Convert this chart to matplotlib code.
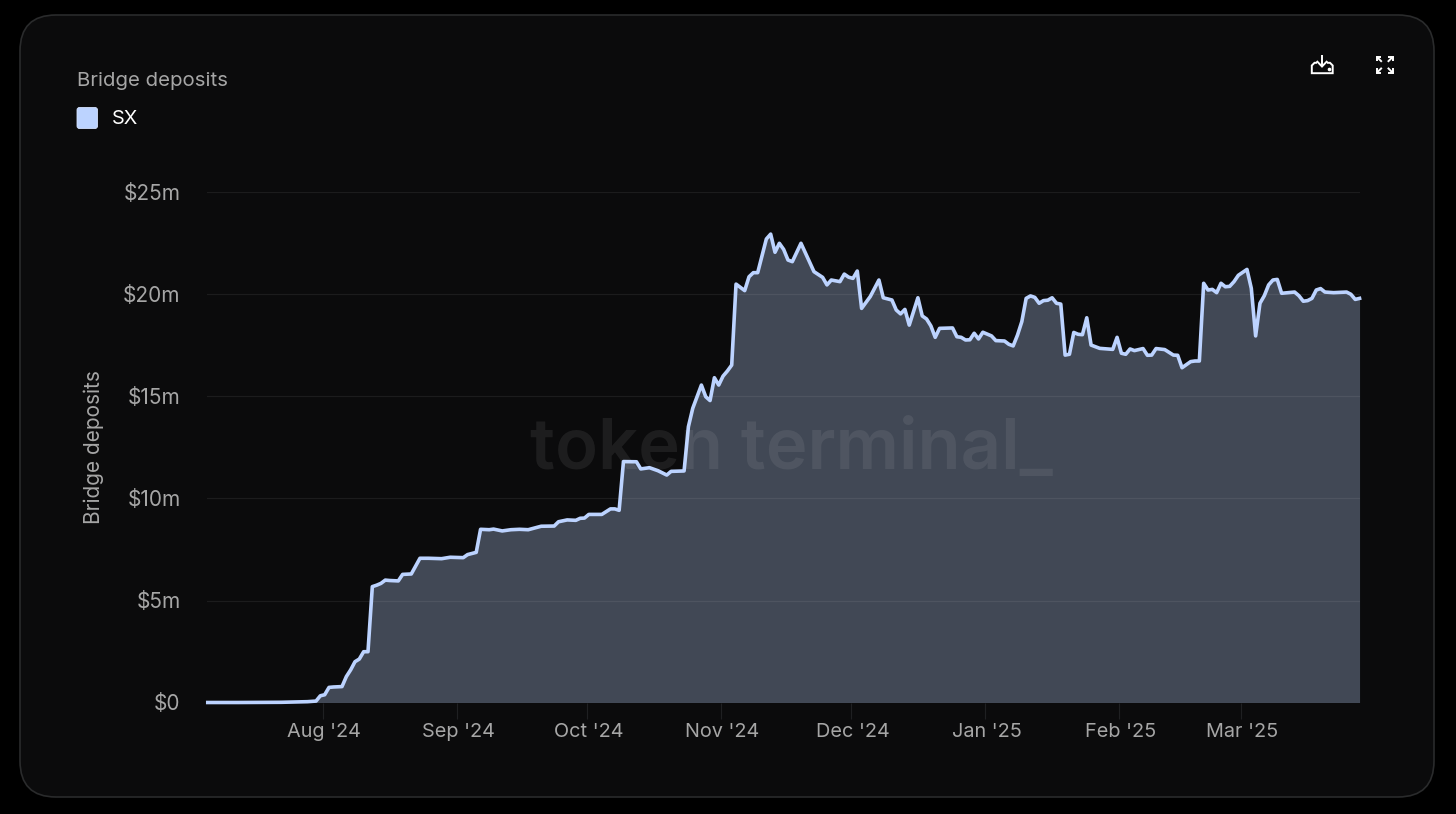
# Bridge deposits for SX, dark card style

import matplotlib
matplotlib.use("Agg")
import matplotlib.pyplot as plt
from matplotlib.patches import FancyBboxPatch
from matplotlib.transforms import ScaledTranslation
import pandas as pd

plt.rcParams['font.family'] = ['Inter', 'DejaVu Sans']

# days counted from 1 Aug 2024
days = [-27, -20, -10, -4, -2, -1, 0, 1, 2, 3, 4, 5, 6, 7, 8, 9, 10, 11, 12, 13, 14, 15, 16, 17, 18, 20, 22, 24, 27, 29, 32, 33, 35, 36, 38, 39, 41, 43, 45, 47, 50, 53, 54, 56, 58, 59, 60, 61, 64, 66, 67, 68,
        69, 72, 73, 75, 77, 79, 80, 83, 84, 85, 87, 88, 89, 90, 91, 92, 93, 94,
        95, 97, 98, 99, 100, 102, 103, 104, 105, 106, 107, 108, 110, 113, 115, 116, 117, 119, 120, 121, 122, 123, 124, 126, 128, 129, 131, 132, 133, 134, 135, 137, 138, 139, 140, 141, 142, 145, 146, 147, 148, 149, 150, 151, 152, 154, 155, 157,
        158, 159, 160, 161, 162, 163, 164, 165, 166, 167, 168, 169, 170, 171, 172, 173, 174, 175, 176, 177, 179, 182, 183, 184, 185, 186, 187, 189, 190, 191, 192, 194, 196, 197, 198, 200, 201, 202, 203, 204, 205, 206, 207, 208, 209, 210, 211, 213, 214, 215, 216, 217, 218, 219, 220, 221, 224, 225, 226, 227, 228, 229, 230, 231, 233, 236, 237, 238, 239]
deposits = [0, 0, 0.01, 0.04, 0.07, 0.33, 0.38, 0.74, 0.76, 0.77, 0.78, 1.27, 1.6, 2.0, 2.13, 2.49, 2.49, 5.68, 5.75, 5.84, 6.0, 5.98, 5.97, 5.96, 6.28, 6.3, 7.07, 7.07, 7.05, 7.12, 7.1, 7.25, 7.36, 8.49, 8.47, 8.5, 8.41, 8.47, 8.49, 8.47, 8.64, 8.65, 8.86, 8.95, 8.93, 9.03, 9.04, 9.22, 9.22, 9.49, 9.49, 9.42,
            11.81, 11.8, 11.45, 11.51, 11.36, 11.15, 11.33, 11.35, 13.52, 14.42, 15.56, 14.99, 14.8, 15.92, 15.56, 16.0, 16.25, 16.54,
            20.51, 20.19, 20.87, 21.07, 21.07, 22.72, 22.96, 22.07, 22.51, 22.21, 21.69, 21.61, 22.51, 21.12, 20.84, 20.47, 20.71, 20.63, 21.0, 20.85, 20.79, 21.15, 19.32, 19.9, 20.71, 19.84, 19.73, 19.24, 19.05, 19.27, 18.5, 19.84, 18.95, 18.8, 18.46, 17.9, 18.34, 18.36, 17.93, 17.9, 17.77, 17.78, 18.1, 17.82, 18.15, 17.97, 17.74, 17.72,
            17.56, 17.48, 18.01, 18.67, 19.81, 19.93, 19.86, 19.57, 19.7, 19.72, 19.84, 19.57, 19.53, 17.03, 17.07, 18.14, 18.05, 18.03, 18.86, 17.52, 17.36, 17.31, 17.9, 17.12, 17.07, 17.33, 17.25, 17.35, 17.02, 17.03, 17.35, 17.3, 17.03, 17.02, 16.41, 16.71, 16.74, 16.74, 20.55, 20.22, 20.25, 20.09, 20.55, 20.38, 20.4, 20.63, 20.94, 21.23, 20.3, 17.97, 19.57, 19.94, 20.47, 20.71, 20.74, 20.06, 20.12, 19.94, 19.67, 19.7, 19.81, 20.22, 20.29, 20.12, 20.09, 20.12, 20.01, 19.76, 19.81]

y_ticks = [0, 5, 10, 15, 20, 25]
y_labels = ["$0", "$5m", "$10m", "$15m", "$20m", "$25m"]
x_ticks = ["2024-08-01", "2024-09-01", "2024-10-01", "2024-11-01", "2024-12-01", "2025-01-01", "2025-02-01", "2025-03-01"]
x_labels = ["Aug '24", "Sep '24", "Oct '24", "Nov '24", "Dec '24", "Jan '25", "Feb '25", "Mar '25"]

W, H = 1456, 814
GREY = "#a6a6a6"
LINE = "#bcd3ff"

dates = pd.Timestamp("2024-08-01") + pd.to_timedelta(days, unit="D") + pd.Timedelta(hours=11)

fig = plt.figure(figsize=(W/100, H/100), dpi=100, facecolor="#000000")

# background card and header furniture, in pixel coordinates
bg = fig.add_axes([0, 0, 1, 1])
bg.set_xlim(0, W)
bg.set_ylim(H, 0)
bg.axis("off")
bg.add_patch(FancyBboxPatch((20+36, 15+36), 1414-72, 782-72, boxstyle="round,pad=36,rounding_size=36",
                            facecolor="#0b0b0c", edgecolor="#2a2b2c", linewidth=1.2))
bg.add_patch(FancyBboxPatch((79, 109.5), 16.5, 17, boxstyle="round,pad=2,rounding_size=2.5",
                            facecolor=LINE, edgecolor="#d5e2ff", linewidth=0.6))
bg.text(77, 80.5, "Bridge deposits", color=GREY, fontsize=14.7, va="center", ha="left")
bg.text(112, 119, "SX", color="#ffffff", fontsize=14.3, va="center", ha="left")
bg.text(93.5, 447.5, "Bridge deposits", color=GREY, fontsize=15, va="center", ha="center", rotation=90)

# download icon
ic = dict(color="#ffffff", lw=1.4, solid_capstyle="butt", solid_joinstyle="miter")
bg.plot([1322, 1322], [54.5, 66.5], **ic)
bg.plot([1316.7, 1322, 1327.3], [61, 66.5, 61], **ic)
bg.plot([1317, 1314.5, 1311.8, 1311.8, 1332.7, 1332.7, 1330, 1327],
        [62.8, 62.8, 65.5, 73.2, 73.2, 65.5, 62.8, 62.8], **ic)
bg.plot([1328.5], [69], marker="o", ms=1.6, color="#ffffff")

# expand icon
for sx, sy in ((-1, -1), (1, -1), (-1, 1), (1, 1)):
    cx, cy = 1384.8, 64.8
    bg.plot([cx+sx*3, cx+sx*8], [cy+sy*3, cy+sy*8], **ic)
    bg.plot([cx+sx*8.3, cx+sx*8.3, cx+sx*3.5], [cy+sy*3.5, cy+sy*8.3, cy+sy*8.3], **ic)

# chart
ax = fig.add_axes([207/W, (H-702.5)/H, (1360-207)/W, (702.5-192.5)/H])
ax.patch.set_alpha(0)
ax.fill_between(dates, deposits, 0, color="#414855", linewidth=0, zorder=1)
ax.plot(dates, deposits, color=LINE, lw=2.6, zorder=3, solid_joinstyle="round", clip_on=False)

ax.set_ylim(0, 25)
aug1 = pd.Timestamp("2024-08-01")
ax.set_xlim(aug1 - pd.Timedelta(days=(322.7-207)/4.33), aug1 + pd.Timedelta(days=(1360-322.7)/4.33))

ax.set_yticks(y_ticks)
ax.set_yticklabels(y_labels, color=GREY, fontsize=15)
ax.set_xticks(pd.to_datetime(x_ticks))
ax.set_xticklabels(x_labels, color=GREY, fontsize=14.3)
ax.tick_params(axis="y", length=0, pad=19)
ax.tick_params(axis="x", length=11.5, width=0.8, color="#1f2022", pad=3.5)

# tick labels sit a little right of their ticks
shift = ScaledTranslation(1.5/100, 0, fig.dpi_scale_trans)
for lab in ax.get_xticklabels():
    lab.set_transform(lab.get_transform() + shift)

ax.set_axisbelow(False)
ax.grid(True, axis="y", color="#ffffff", alpha=0.07, linewidth=0.9, zorder=2)
for s in ax.spines.values():
    s.set_visible(False)

# watermark over the chart
fig.text(791.5/W, 1-451/H, "token terminal_", color="#ffffff", alpha=0.075, fontsize=50.8,
         fontweight="semibold", ha="center", va="center", zorder=10)

fig.savefig("out.png", dpi=100, facecolor=fig.get_facecolor())
